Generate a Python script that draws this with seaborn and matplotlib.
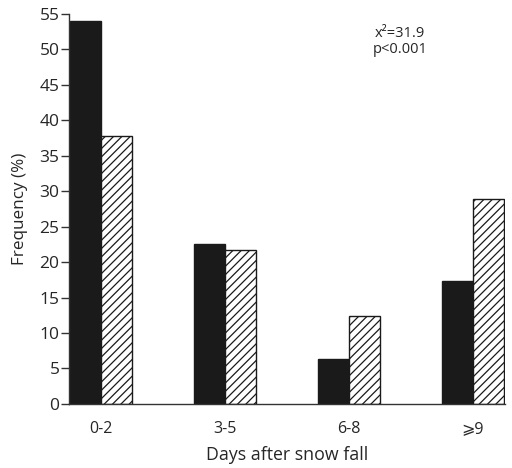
import matplotlib
matplotlib.use('Agg')
import matplotlib.pyplot as plt
import pandas as pd
import seaborn as sns

# Values (percent)
days = ['0-2', '3-5', '6-8', '⩾9']
solid = [54.0, 22.6, 6.3, 17.4]
hatched = [37.8, 21.7, 12.4, 28.9]

df = pd.DataFrame({
    'days': days * 2,
    'freq': solid + hatched,
    'group': ['solid'] * len(days) + ['hatched'] * len(days),
})

sns.set_style('white')
plt.rcParams['font.family'] = ['Open Sans', 'DejaVu Sans']
plt.rcParams['hatch.linewidth'] = 0.9

fig = plt.figure(figsize=(5.12, 4.68), dpi=100)
ax = fig.add_axes([0.135, 0.137, 0.851, 0.833])

sns.barplot(data=df, x='days', y='freq', hue='group', order=days,
            hue_order=['solid', 'hatched'], palette=['#1a1a1a', 'white'],
            width=0.5, gap=0, saturation=1, legend=False, ax=ax)

# style the bars: black filled vs white with diagonal hatching
n = len(days)
for i, bar in enumerate(ax.patches):
    if i < n:
        bar.set_facecolor('#1a1a1a')
        bar.set_edgecolor('#1a1a1a')
    else:
        bar.set_facecolor('white')
        bar.set_edgecolor('#1a1a1a')
        bar.set_hatch('////')
    bar.set_linewidth(1.0)

ax.set_ylim(0, 55)
ax.set_xlim(-0.26, 3.26)
ax.set_yticks(range(0, 56, 5))
sns.despine(ax=ax)
for s in ['left', 'bottom']:
    ax.spines[s].set_color('#333333')
    ax.spines[s].set_linewidth(1.0)

ax.tick_params(axis='y', direction='out', length=6, width=1, color='#333333',
               pad=1, labelsize=12.5, left=True)
ax.tick_params(axis='x', length=0, pad=12, labelsize=11.5)

ax.set_xlabel('Days after snow fall', fontsize=12.8, labelpad=7)
ax.set_ylabel('Frequency (%)', fontsize=12.3, labelpad=8)

ax.text(0.76, 0.93, 'x²=31.9\np<0.001', transform=ax.transAxes,
        ha='center', va='center', fontsize=10.5, linespacing=1.1)

fig.savefig('out.png', dpi=100)
